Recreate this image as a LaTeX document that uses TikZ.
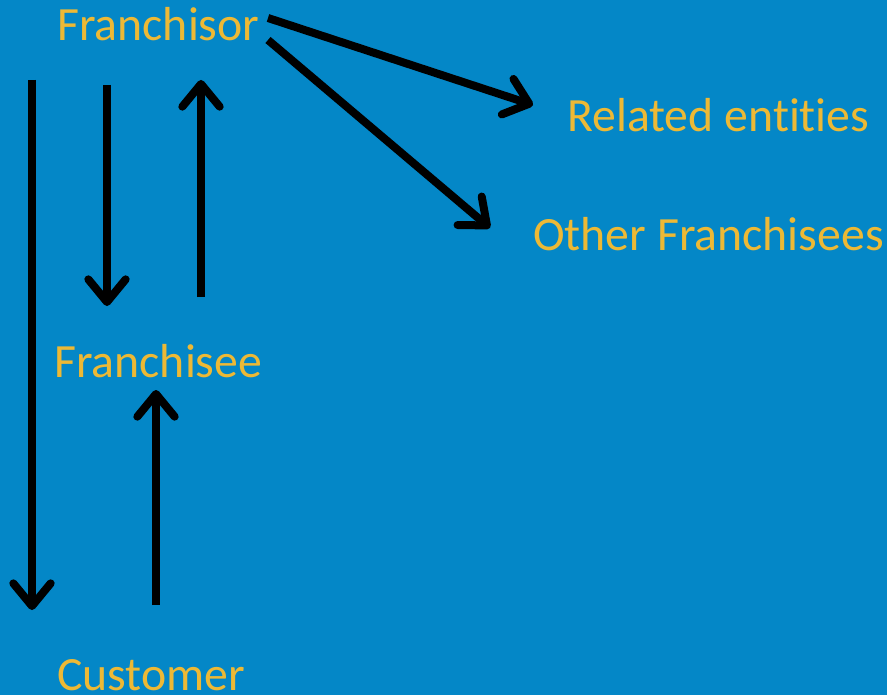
\documentclass[tikz,border=0pt]{standalone}
\usepackage{fontspec}
\setmainfont{Carlito}[Ligatures={NoCommon}]
\usetikzlibrary{arrows.meta}
\definecolor{bgblue}{HTML}{0487C7}
\definecolor{txtgold}{HTML}{EDB935}
\tikzset{
  lbl/.style={anchor=base west, inner sep=0pt, text=txtgold, font=\fontsize{35.8}{42}\selectfont},
  arr/.style={line width=6pt, line cap=butt, black,
    -{Straight Barb[length=17pt, width=28pt, line cap=round, line join=round]}},
}
\begin{document}
\begin{tikzpicture}[x=0.75pt,y=-0.75pt]
\fill[bgblue] (0,0) rectangle (887,695);
\useasboundingbox (0,0) rectangle (887,695);
\node[lbl] (franchisor) at (57,41) {Franchisor};
\node[lbl] (related) at (567,132) {Related entities};
\node[lbl] (others) at (533,250) {Other Franchisees};
\node[lbl] (franchisee) at (54,377) {Franchisee};
\node[lbl] (customer) at (57,690) {Customer};
\coordinate (a1s) at (32,80);  \coordinate (a1e) at (32,610);
\coordinate (a2s) at (107,85); \coordinate (a2e) at (107,306);
\coordinate (a3s) at (201,297); \coordinate (a3e) at (201,80);
\coordinate (a4s) at (156,605); \coordinate (a4e) at (156,390);
\coordinate (a5s) at (268,18); \coordinate (a5e) at (533,105);
\coordinate (a6s) at (268,40); \coordinate (a6e) at (490,228);
\draw[arr] (a1s) -- (a1e);
\draw[arr] (a2s) -- (a2e);
\draw[arr] (a3s) -- (a3e);
\draw[arr] (a4s) -- (a4e);
\draw[arr] (a5s) -- (a5e);
\draw[arr] (a6s) -- (a6e);
\end{tikzpicture}
\end{document}
